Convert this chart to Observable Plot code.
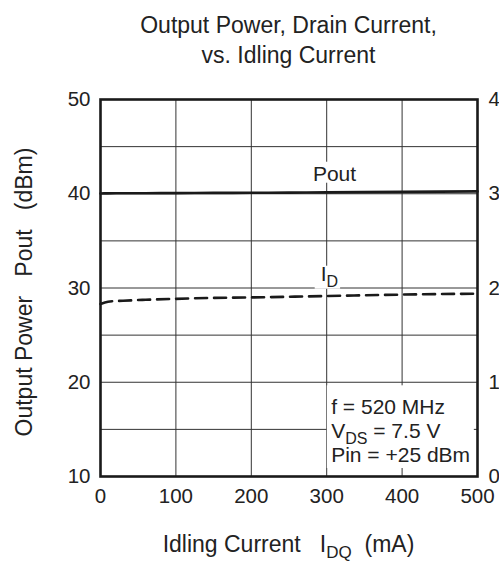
<!DOCTYPE html>
<html><head><meta charset="utf-8">
<script src="https://cdn.jsdelivr.net/npm/d3@7"></script>
<script src="https://cdn.jsdelivr.net/npm/@observablehq/plot@0.6"></script>
<style>
body{margin:0;background:#fff;}
#chart svg{overflow:hidden;display:block;}
</style>
</head><body><div id="chart"></div>
<script>
// ---- data ----
const idq      = [0, 10, 30, 60, 100, 150, 200, 250, 300, 400, 500];          // mA
const poutDbm  = [40.03, 40.04, 40.05, 40.06, 40.07, 40.09, 40.10, 40.12, 40.15, 40.20, 40.25];
const idAmps   = [1.83, 1.855, 1.865, 1.875, 1.885, 1.895, 1.90, 1.907, 1.915, 1.93, 1.94];
const xTicks   = [0, 100, 200, 300, 400, 500];
const yTicks   = [10, 20, 30, 40, 50];
const yGrid    = [15, 20, 25, 30, 35, 40, 45];
const xGrid    = [100, 200, 300, 400];
const rightTickLabels = ["0", "1", "2", "3", "4"];
const titleLines = ["Output Power, Drain Current,", "vs. Idling Current"];
const notes = [["f = 520 MHz"], ["V", "DS", " = 7.5 V"], ["Pin = +25 dBm"]];

const toLeft = a => 10 + 10 * a;   // drain current (A) on the dBm scale
const rows = idq.map((x, i) => ({x, pout: poutDbm[i], id: toLeft(idAmps[i])}));

const W = 499, H = 563;
const ink = "#222";
const plot = Plot.plot({
  width: W, height: H,
  marginLeft: 100, marginRight: 22, marginTop: 99, marginBottom: 87,
  x: {domain: [0, 500]},
  y: {domain: [10, 50]},
  style: {fontFamily: "Liberation Sans, Arial, sans-serif", fontSize: "20.5px", color: ink, background: "#fff"},
  marks: [
    Plot.gridX(xGrid, {stroke: "#333", strokeOpacity: 1, strokeWidth: 1}),
    Plot.gridY(yGrid, {stroke: "#333", strokeOpacity: 1, strokeWidth: 1}),
    Plot.line(rows, {x: "x", y: "pout", stroke: "#1a1a1a", strokeWidth: 2.6, curve: "monotone-x"}),
    Plot.line(rows, {x: "x", y: "id", stroke: "#1a1a1a", strokeWidth: 2.6, strokeDasharray: "12,7", curve: "monotone-x"}),
    Plot.frame({stroke: "#1a1a1a", strokeWidth: 2.6}),
    Plot.axisX({ticks: xTicks, tickSize: 0, tickPadding: 12, label: null, tickFormat: d => String(d)}),
    Plot.axisY({ticks: yTicks, tickSize: 0, tickPadding: 10, label: null, tickFormat: d => String(d)}),
    Plot.axisY({anchor: "right", ticks: yTicks, tickSize: 0, tickPadding: 11, label: null,
                tickFormat: d => rightTickLabels[yTicks.indexOf(d)]})
  ]
});
document.getElementById("chart").append(plot);

const svg = d3.select(plot);
const sx = plot.scale("x"), sy = plot.scale("y");
const px = v => sx.apply(v), py = v => sy.apply(v);
const cx = (px(0) + px(500)) / 2;
const font = "Liberation Sans, Arial, sans-serif";

// titles
titleLines.forEach((t, i) => {
  svg.append("text").attr("x", cx).attr("y", 33 + i * 30).attr("text-anchor", "middle")
    .attr("font-size", 23).attr("font-family", font).attr("fill", ink).text(t);
});

// x axis title
const xt = svg.append("text").attr("x", cx).attr("y", 552).attr("text-anchor", "middle")
  .attr("font-size", 23).attr("font-family", font).attr("fill", ink).style("white-space", "pre");
xt.append("tspan").text("Idling Current   I");
xt.append("tspan").attr("dy", 6).attr("font-size", 17).text("DQ");
xt.append("tspan").attr("dy", -6).text("  (mA)");

// y axis title
const ytY = 292;
const yt = svg.append("text").attr("transform", `translate(32,${ytY}) rotate(-90)`).attr("text-anchor", "middle")
  .attr("font-size", 23).attr("font-family", font).attr("fill", ink).style("white-space", "pre");
yt.append("tspan").text("Output Power   Pout   (dBm)");

// helper: white background behind a text element
function backdrop(node, pad) {
  const b = node.getBBox();
  svg.insert("rect", () => node).attr("x", b.x - pad[3]).attr("y", b.y - pad[0])
    .attr("width", b.width + pad[1] + pad[3]).attr("height", b.height + pad[0] + pad[2]).attr("fill", "#fff");
}

// "Pout" label
const pl = svg.append("text").attr("x", px(311)).attr("y", py(41.33)).attr("text-anchor", "middle")
  .attr("font-size", 21).attr("font-family", font).attr("fill", ink).text("Pout");
backdrop(pl.node(), [0, 3, -2, 3]);

// "I_D" label
const il = svg.append("text").attr("x", px(292.7)).attr("y", py(30.72)).attr("text-anchor", "start")
  .attr("font-size", 21).attr("font-family", font).attr("fill", ink);
il.append("tspan").text("I");
il.append("tspan").attr("dy", 6).attr("font-size", 16).text("D");
backdrop(il.node(), [-4, 2, -1, 6]);

// condition box
const g = svg.append("g").attr("text-anchor", "start");
const nx = px(300) + 5;
const base = [414.3, 437.5, 461.7];
notes.forEach((parts, i) => {
  const t = g.append("text").attr("x", nx).attr("y", base[i]).attr("font-size", 21).attr("text-anchor", "start")
    .attr("font-family", font).attr("fill", ink).style("white-space", "pre");
  if (parts.length === 1) t.text(parts[0]);
  else {
    t.append("tspan").text(parts[0]);
    t.append("tspan").attr("dy", 6).attr("font-size", 16).text(parts[1]);
    t.append("tspan").attr("dy", -6).text(parts[2]);
  }
});
const bb = g.node().getBBox();
g.insert("rect", ":first-child").attr("x", px(300) + 0.6).attr("y", bb.y - 10)
  .attr("width", px(495) - px(300)).attr("height", py(10) - 8 - (bb.y - 10)).attr("fill", "#fff");
</script>
</body></html>
